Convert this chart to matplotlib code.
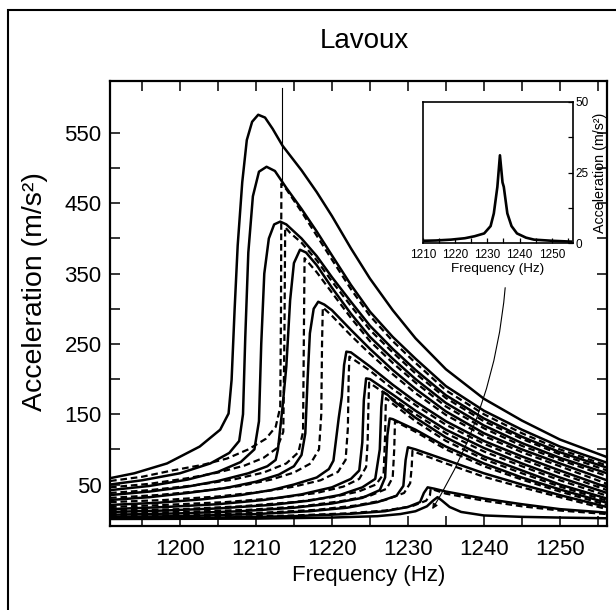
import matplotlib
matplotlib.use("Agg")
import matplotlib.pyplot as plt
from matplotlib.patches import Rectangle

plt.rcParams['font.family'] = ['Liberation Sans', 'DejaVu Sans']

# solid sweeps (frequency in Hz, acceleration in m/s2)
s1_hz = [1190.8, 1194, 1198.3, 1202.6, 1205.3, 1206.4, 1206.8, 1207.2, 1207.6, 1208.2, 1208.8, 1209.5, 1210.3,
         1211.2, 1212.2, 1213.5, 1216, 1218, 1220, 1222.5, 1225, 1228, 1231, 1235, 1240, 1245, 1250, 1256.2]
s1_acc = [59, 66, 80, 104, 128, 151, 199, 300, 390, 480, 540, 566, 576,
          572, 556, 532, 497, 466, 432, 386, 343, 298, 258, 214, 172, 141, 114, 89]
s2_hz = [1190.8, 1195, 1200, 1204, 1206.5, 1207.8, 1208.3, 1208.6, 1209.0, 1209.6, 1210.4, 1211.4, 1212.5,
         1214, 1216, 1218, 1220, 1222.5, 1225, 1228, 1231, 1235, 1240, 1245, 1250, 1256.2]
s2_acc = [50, 56, 66, 80, 95, 112, 150, 260, 380, 460, 495, 502, 496,
          472, 442, 410, 376, 334, 296, 260, 229, 190, 155, 128, 104, 81]
s3_hz = [1190.8, 1196, 1201, 1205, 1208, 1209.8, 1210.4, 1210.7, 1211.1, 1211.7, 1212.4, 1213.2,
         1214, 1216, 1218, 1220, 1222.5, 1225, 1228, 1231, 1235, 1240, 1245, 1250, 1256.2]
s3_acc = [42, 48, 57, 68, 82, 100, 140, 250, 350, 400, 420, 424,
          420, 400, 375, 345, 310, 276, 243, 213, 177, 144, 118, 96, 74]
s4_hz = [1190.8, 1196, 1201, 1205, 1209, 1211.5, 1212.6, 1212.9, 1213.5, 1214.0, 1214.5, 1215.0, 1215.8,
         1216.6, 1218, 1220, 1222.5, 1225, 1228, 1231, 1235, 1240, 1245, 1250, 1256.2]
s4_acc = [35, 40, 47, 55, 66, 76, 85, 100, 160, 218, 312, 365, 384,
          380, 362, 330, 293, 260, 229, 200, 166, 134, 109, 88, 66]
s5_hz = [1190.8, 1196, 1201, 1206, 1210, 1213, 1215, 1216.0, 1216.5, 1216.8, 1217.1, 1217.6, 1218.2,
         1219, 1220, 1222.5, 1225, 1228, 1231, 1235, 1240, 1245, 1250, 1256.2]
s5_acc = [28, 32, 38, 45, 54, 64, 76, 92, 123, 200, 265, 300, 310,
          306, 298, 270, 243, 213, 186, 154, 123, 100, 80, 56]
s6_hz = [1190.8, 1197, 1203, 1208, 1212, 1215, 1218, 1219.6, 1220.2, 1220.5, 1220.9, 1221.3, 1221.6, 1221.9,
         1222.5, 1225, 1228, 1231, 1235, 1240, 1245, 1250, 1256.2]
s6_acc = [21, 24, 29, 35, 42, 50, 60, 72, 84, 110, 145, 175, 220, 239,
          238, 218, 192, 168, 140, 112, 90, 70, 46]
s7_hz = [1190.8, 1198, 1205, 1211, 1216, 1220, 1222.5, 1223.6, 1224.0, 1224.2, 1224.5,
         1225, 1228, 1231, 1235, 1240, 1245, 1250, 1256.2]
s7_acc = [15, 18, 22, 28, 36, 46, 58, 70, 110, 170, 201,
          200, 178, 155, 128, 102, 80, 60, 38]
s8_hz = [1190.8, 1198, 1205, 1212, 1217, 1221, 1224, 1225.7, 1226.3, 1226.5, 1226.7,
         1227.3, 1228, 1231, 1235, 1240, 1245, 1250, 1256.2]
s8_acc = [11, 13, 16, 21, 27, 35, 46, 58, 100, 160, 182,
          178, 170, 145, 117, 90, 70, 50, 30]
s9_hz = [1190.8, 1200, 1208, 1215, 1220, 1224, 1226.3, 1227.0, 1227.3, 1227.6,
         1228, 1231, 1235, 1240, 1245, 1250, 1256.2]
s9_acc = [7, 9, 12, 17, 23, 31, 42, 60, 120, 144,
          143, 128, 104, 80, 60, 43, 24]
s10_hz = [1190.8, 1200, 1210, 1217, 1222, 1226, 1228.5, 1229.4, 1229.7, 1230.0,
          1231, 1235, 1240, 1245, 1250, 1256.2]
s10_acc = [4, 5, 8, 12, 17, 25, 34, 48, 85, 103,
           100, 85, 66, 50, 35, 18]
s11_hz = [1190.8, 1205, 1215, 1222, 1227, 1230, 1231.6, 1232.1, 1232.6,
          1233.5, 1235, 1240, 1245, 1250, 1256.2]
s11_acc = [2, 3, 5, 8, 12, 18, 25, 38, 46,
           44, 40, 30, 22, 15, 10]
s12_hz = [1190.8, 1210, 1220, 1226, 1229, 1231, 1232.5, 1233.3, 1233.9,
          1234.5, 1235.5, 1237, 1240, 1245, 1250, 1256.2]
s12_acc = [1, 1.5, 3, 5, 8, 12, 19, 27, 32,
           27, 18, 11, 6, 4, 3, 2]

# dashed sweeps
d1_hz = [1190.8, 1195, 1199, 1203, 1206.2, 1209, 1211.3, 1212.6, 1213.2, 1213.3, 1213.35,
         1214, 1216, 1218, 1220, 1222.5, 1225, 1228, 1231, 1235, 1240, 1245, 1250, 1256.2]
d1_acc = [55, 61, 70, 78, 87, 100, 115, 132, 160, 300, 478,
          470, 438, 404, 370, 328, 290, 254, 223, 184, 150, 123, 100, 77]
d2_hz = [1190.8, 1196, 1201, 1205, 1208.5, 1211, 1212.8, 1213.6, 1213.75, 1213.85,
         1214.5, 1216, 1218, 1220, 1222.5, 1225, 1228, 1231, 1235, 1240, 1245, 1250, 1256.2]
d2_acc = [46, 51, 59, 67, 77, 88, 102, 125, 260, 416,
          408, 394, 369, 339, 304, 270, 238, 208, 173, 140, 115, 93, 70]
d3_hz = [1190.8, 1196, 1202, 1207, 1211, 1214, 1215.6, 1216.2, 1216.3, 1216.4,
         1218, 1220, 1222.5, 1225, 1228, 1231, 1235, 1240, 1245, 1250, 1256.2]
d3_acc = [38, 42, 49, 57, 67, 80, 96, 125, 250, 372,
          352, 323, 287, 254, 223, 195, 161, 130, 105, 85, 62]
d4_hz = [1190.8, 1197, 1203, 1208, 1212, 1215, 1217.2, 1218.3, 1218.6, 1218.7, 1218.8,
         1220, 1222.5, 1225, 1228, 1231, 1235, 1240, 1245, 1250, 1256.2]
d4_acc = [31, 35, 41, 48, 57, 67, 80, 100, 150, 250, 302,
          290, 262, 236, 207, 180, 149, 119, 96, 76, 51]
d5_hz = [1190.8, 1198, 1205, 1211, 1215, 1218.5, 1220.8, 1221.8, 1222.1, 1222.2, 1222.3,
         1225, 1228, 1231, 1235, 1240, 1245, 1250, 1256.2]
d5_acc = [25, 28, 33, 40, 47, 56, 68, 85, 130, 200, 232,
          212, 186, 163, 135, 108, 86, 66, 42]
d6_hz = [1190.8, 1198, 1206, 1213, 1218, 1221.5, 1223.6, 1224.5, 1224.7, 1224.8, 1224.9,
         1228, 1231, 1235, 1240, 1245, 1250, 1256.2]
d6_acc = [18, 21, 25, 31, 38, 47, 58, 75, 110, 160, 195,
          172, 150, 123, 97, 76, 56, 34]
d7_hz = [1190.8, 1200, 1208, 1215, 1220, 1223.5, 1225.8, 1226.8, 1227.0, 1227.1,
         1228, 1231, 1235, 1240, 1245, 1250, 1256.2]
d7_acc = [13, 15, 19, 25, 32, 40, 50, 65, 120, 173,
          165, 140, 112, 86, 66, 47, 27]
d8_hz = [1190.8, 1200, 1209, 1216, 1221, 1225, 1227.2, 1228.0, 1228.2, 1228.3,
         1231, 1235, 1240, 1245, 1250, 1256.2]
d8_acc = [9, 11, 14, 19, 26, 34, 44, 60, 100, 140,
          125, 100, 76, 57, 40, 21]
d9_hz = [1190.8, 1202, 1211, 1218, 1223, 1227, 1229.5, 1230.3, 1230.5, 1230.6,
         1231, 1235, 1240, 1245, 1250, 1256.2]
d9_acc = [5, 7, 10, 14, 20, 28, 38, 52, 75, 98,
          96, 80, 61, 46, 32, 15]
d10_hz = [1190.8, 1205, 1215, 1222, 1227, 1230.5, 1232.4, 1232.9, 1233.0,
          1235, 1240, 1245, 1250, 1256.2]
d10_acc = [3, 4, 6, 9, 13, 19, 27, 35, 44,
           37, 27, 19, 13, 8]

# inset: linear response at low forcing
inset_hz = [1210.3, 1214, 1218.7, 1223, 1226, 1229, 1231, 1232, 1233.1, 1233.9,
            1234.7, 1235.1, 1236.2, 1237.5, 1239.2, 1242, 1244.5, 1250, 1256]
inset_acc = [0.8, 0.9, 1.2, 1.7, 2.4, 3.4, 6.0, 10.5, 19.9, 31.1,
             21.5, 19.9, 10.5, 6.0, 3.4, 1.9, 1.2, 0.8, 0.5]

title = "Lavoux"
x_ticks = [1200, 1210, 1220, 1230, 1240, 1250]
y_ticks = [50, 150, 250, 350, 450, 550]

solid = [(s1_hz, s1_acc), (s2_hz, s2_acc), (s3_hz, s3_acc), (s4_hz, s4_acc), (s5_hz, s5_acc),
         (s6_hz, s6_acc), (s7_hz, s7_acc), (s8_hz, s8_acc), (s9_hz, s9_acc), (s10_hz, s10_acc),
         (s11_hz, s11_acc), (s12_hz, s12_acc)]
dashed = [(d1_hz, d1_acc), (d2_hz, d2_acc), (d3_hz, d3_acc), (d4_hz, d4_acc), (d5_hz, d5_acc),
          (d6_hz, d6_acc), (d7_hz, d7_acc), (d8_hz, d8_acc), (d9_hz, d9_acc), (d10_hz, d10_acc)]

fig = plt.figure(figsize=(6.16, 6.10), dpi=100)

# outer frame round the whole figure
fig.patches.append(Rectangle((8 / 616, -0.2), 1.2, 1.2 - 10 / 610, transform=fig.transFigure,
                             fill=False, lw=1.5, ec='black'))

ax = fig.add_axes([0.1786, 0.1377, 0.8068, 0.7295])
for hz, acc in solid:
    ax.plot(hz, acc, color='black', lw=1.8, solid_joinstyle='round')
for hz, acc in dashed:
    ax.plot(hz, acc, color='black', lw=1.6, linestyle=(0, (3.0, 1.7)))

# thin marker line above the first jump
ax.plot([1213.4, 1213.4], [614, 480], color='black', lw=0.8)

ax.set_xlim(1190.8, 1256.2)
ax.set_ylim(-9, 624)
ax.set_xticks(x_ticks)
ax.set_xticks([1195, 1205, 1215, 1225, 1235, 1245, 1255], minor=True)
ax.set_yticks(y_ticks)
ax.set_yticks([100, 200, 300, 400, 500], minor=True)
ax.tick_params(which='both', direction='in', top=True, right=True, length=7, width=1.1,
               labelsize=16)
ax.tick_params(axis='x', pad=9)
ax.tick_params(axis='y', pad=6)
for sp in ax.spines.values():
    sp.set_linewidth(1.6)
ax.set_xlabel("Frequency (Hz)", fontsize=16, va='center')
ax.xaxis.set_label_coords(0.52, -0.112)
ax.set_ylabel("Acceleration (m/s²)", fontsize=20.5, va='center')
ax.yaxis.set_label_coords(-0.151, 0.527)
fig.text(364 / 616, 1 - 41 / 610, title, fontsize=20, ha='center', va='center')

# leader from the inset to the small linear peak
ax.annotate("", xy=(1233.2, 15), xytext=(1242.8, 330),
            arrowprops=dict(arrowstyle='-|>', color='black', lw=0.8, mutation_scale=8,
                            shrinkA=0, shrinkB=0, connectionstyle='arc3,rad=-0.12'))

ins = fig.add_axes([0.6867, 0.6016, 0.2435, 0.2312])
ins.plot(inset_hz, inset_acc, color='black', lw=1.9)
ins.set_xlim(1210.3, 1256.6)
ins.set_ylim(0, 50)
ins.set_xticks([1210, 1220, 1230, 1240, 1250])
ins.set_xticks([1215, 1225, 1235, 1245, 1255], minor=True)
ins.set_yticks([0, 25, 50])
ins.set_yticks([12.5, 37.5], minor=True)
ins.yaxis.tick_right()
ins.tick_params(which='both', direction='in', length=3.5, width=0.9, labelsize=8.5, pad=4)
ins.tick_params(axis='y', which='both', left=False, right=True, pad=2)
for sp in ins.spines.values():
    sp.set_linewidth(1.2)
ins.set_xlabel("Frequency (Hz)", fontsize=9.7, labelpad=2)
ins.yaxis.set_label_position('right')
ins.set_ylabel("Acceleration (m/s²)", fontsize=10.3, labelpad=3)

fig.savefig("out.png", dpi=100)
